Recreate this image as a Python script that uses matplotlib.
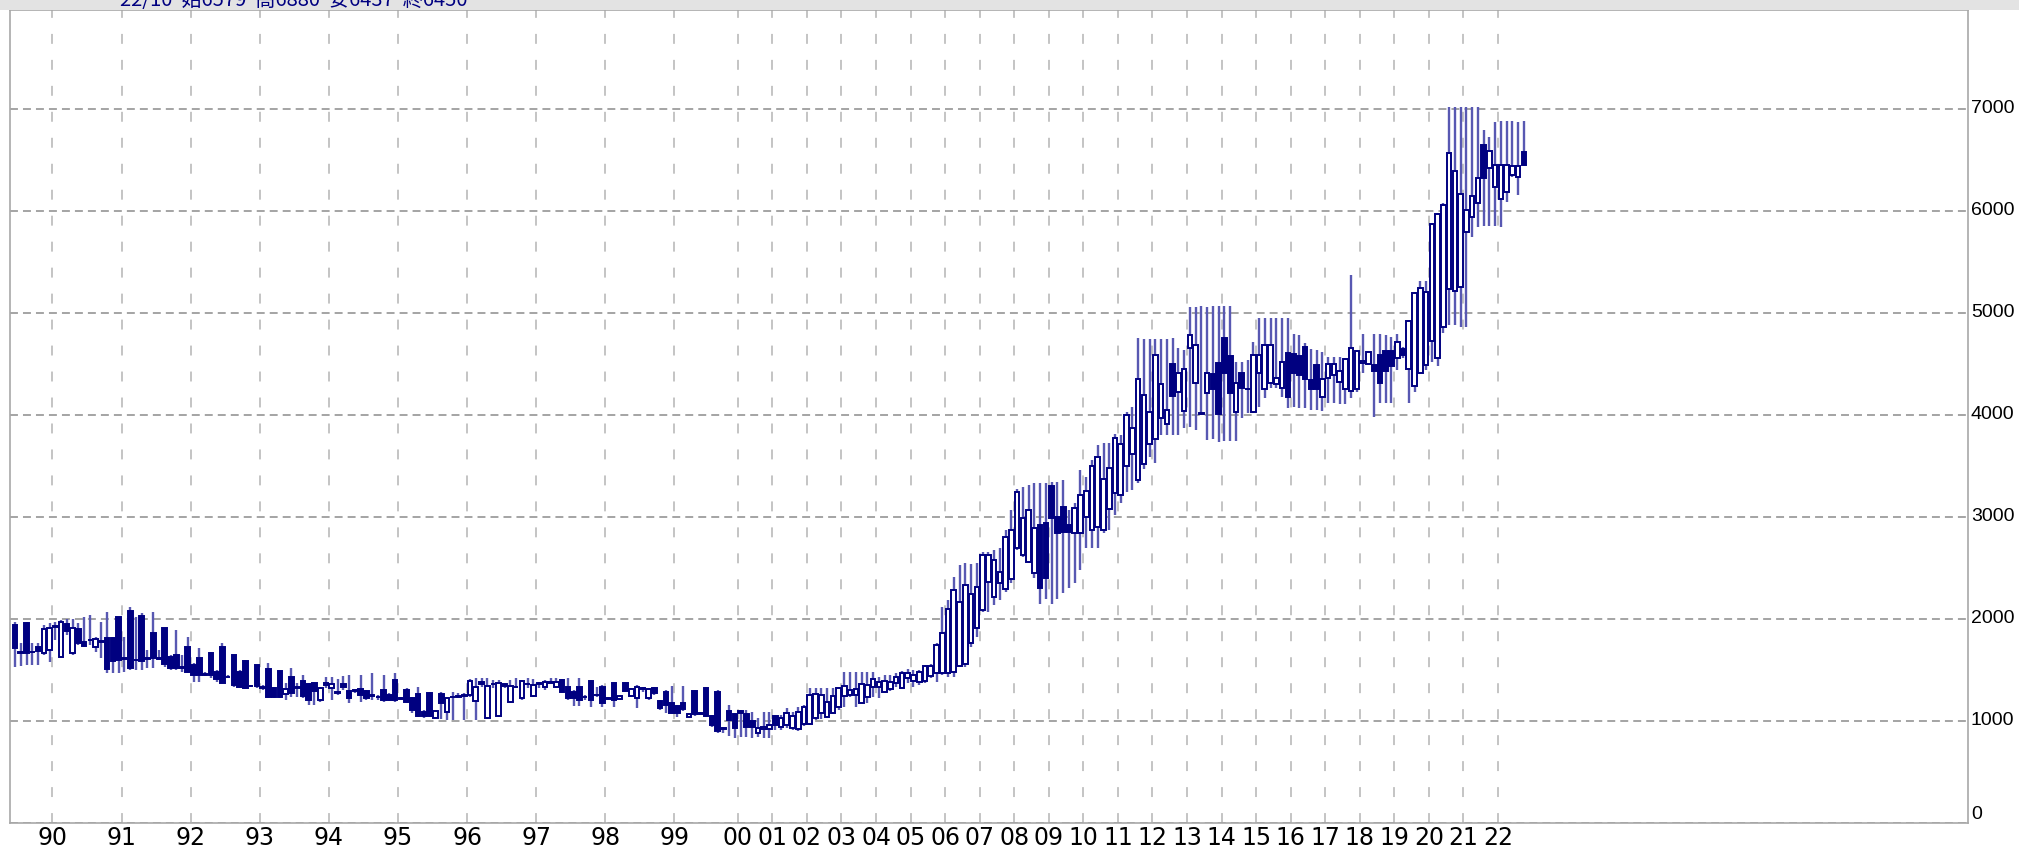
import numpy as np
import matplotlib.pyplot as plt
from matplotlib.patches import Rectangle

# monthly candles 1989-06 .. 1999-10, then two-month candles up to 22/10
year_labels = ['90', '91', '92', '93', '94', '95', '96', '97', '98', '99',
               '00', '01', '02', '03', '04', '05', '06', '07', '08', '09',
               '10', '11', '12', '13', '14', '15', '16', '17', '18', '19',
               '20', '21', '22']
candles_per_year = [7] + [12] * 9 + [11] + [6] * 22 + [5]

opens = [
    1944, 1668, 1957, 1676, 1728, 1670, 1696, 1920, 1630, 1951,
    1663, 1898, 1778, 1792, 1722, 1776, 1817, 1817, 2023, 1612,
    2081, 1600, 2029, 1616, 1859, 1614, 1908, 1630, 1647, 1528,
    1728, 1549, 1614, 1451, 1663, 1483, 1728, 1436, 1647, 1483,
    1591, 1345, 1549, 1332, 1506, 1320, 1493, 1261, 1434, 1328,
    1395, 1363, 1369, 1206, 1353, 1320, 1287, 1359, 1294, 1297,
    1310, 1294, 1246, 1240, 1304, 1255, 1402, 1224, 1304, 1222,
    1265, 1091, 1271, 1026, 1261, 1085, 1236, 1238, 1245, 1255,
    1199, 1385, 1026, 1361, 1049, 1363, 1189, 1334, 1222, 1361,
    1245, 1367, 1330, 1376, 1330, 1402, 1336, 1287, 1336, 1240,
    1395, 1253, 1336, 1224, 1369, 1212, 1376, 1245, 1222, 1310,
    1222, 1320, 1199, 1287, 1173, 1147, 1180, 1036, 1297, 1077,
    1327, 1049, 1287, 930, 1098, 1068, 1101, 1065, 1003, 885,
    918, 918, 1049, 945, 961, 928, 918, 971, 971, 1026,
    1082, 1043, 1082, 1141, 1245, 1255, 1255, 1180, 1239, 1337,
    1330, 1288, 1311, 1369, 1320, 1418, 1396, 1386, 1396, 1441,
    1467, 1474, 1467, 1477, 1543, 1559, 1762, 1909, 2088, 2366,
    2219, 2350, 2291, 2389, 2693, 2628, 2562, 2448, 2922, 2938,
    3304, 3003, 3101, 2922, 2840, 2840, 2997, 2873, 2905, 2873,
    3075, 3232, 3216, 3500, 3618, 3363, 3520, 3713, 3762, 3967,
    3912, 4500, 4222, 4039, 4654, 4311, 4020, 4219, 4402, 4513,
    4758, 4579, 4033, 4415, 4255, 4033, 4409, 4252, 4317, 4301,
    4262, 4605, 4594, 4578, 4670, 4343, 4490, 4173, 4366, 4392,
    4327, 4255, 4238, 4251, 4506, 4500, 4490, 4588, 4630, 4630,
    4555, 4643, 4447, 4284, 4415, 4490, 4725, 4562, 4866, 5232,
    5215, 5258, 5797, 5944, 6075, 6647, 6418, 6238, 6117, 6189,
    6353, 6336, 6579,
]
highs = [
    1974, 1761, 1967, 1761, 1768, 1941, 1957, 1974, 1990, 1996,
    1996, 1957, 2023, 2039, 1826, 1974, 2072, 1826, 2023, 1826,
    2121, 2023, 2055, 1696, 2072, 1696, 1908, 1647, 1892, 1647,
    1826, 1565, 1712, 1483, 1679, 1500, 1761, 1451, 1647, 1500,
    1598, 1353, 1549, 1353, 1565, 1336, 1493, 1369, 1516, 1369,
    1451, 1369, 1385, 1336, 1434, 1434, 1408, 1441, 1451, 1304,
    1451, 1304, 1467, 1255, 1451, 1271, 1467, 1238, 1320, 1238,
    1336, 1108, 1287, 1108, 1287, 1238, 1287, 1271, 1271, 1408,
    1418, 1418, 1418, 1402, 1402, 1369, 1402, 1418, 1402, 1418,
    1408, 1385, 1402, 1418, 1418, 1408, 1418, 1304, 1418, 1255,
    1402, 1336, 1353, 1238, 1385, 1255, 1385, 1320, 1353, 1336,
    1320, 1330, 1206, 1304, 1343, 1157, 1343, 1075, 1304, 1091,
    1336, 1059, 1304, 944, 1157, 1075, 1108, 1108, 1091, 1026,
    1091, 1091, 1059, 1059, 1124, 1092, 1141, 1157, 1320, 1320,
    1320, 1320, 1320, 1337, 1484, 1484, 1484, 1484, 1484, 1484,
    1435, 1451, 1451, 1467, 1494, 1507, 1500, 1500, 1549, 1559,
    1762, 2121, 2186, 2415, 2530, 2546, 2539, 2546, 2660, 2660,
    2677, 2693, 2873, 3069, 3271, 3297, 3314, 3337, 3337, 3337,
    3347, 3347, 3363, 3069, 3134, 3461, 3396, 3559, 3706, 3722,
    3722, 3811, 3804, 4033, 4082, 4752, 4742, 4742, 4742, 4742,
    4742, 4752, 4654, 4637, 5062, 5062, 5069, 5062, 5069, 5069,
    5069, 5069, 4523, 4523, 4539, 4719, 4948, 4948, 4948, 4948,
    4948, 4948, 4794, 4784, 4702, 4643, 4637, 4621, 4572, 4572,
    4572, 4555, 5372, 4637, 4794, 4630, 4794, 4794, 4784, 4768,
    4794, 4670, 4931, 5209, 5313, 5313, 5879, 5983, 6075, 7016,
    7016, 7016, 7023, 7023, 7023, 6794, 6728, 6876, 6885, 6885,
    6885, 6876, 6880,
]
lows = [
    1532, 1539, 1549, 1549, 1549, 1647, 1581, 1794, 1625, 1843,
    1647, 1745, 1728, 1745, 1679, 1614, 1474, 1474, 1474, 1483,
    1500, 1500, 1500, 1516, 1516, 1598, 1532, 1500, 1500, 1483,
    1467, 1385, 1385, 1441, 1418, 1385, 1369, 1418, 1336, 1320,
    1310, 1330, 1320, 1304, 1222, 1222, 1222, 1206, 1238, 1238,
    1222, 1157, 1157, 1189, 1320, 1206, 1255, 1304, 1173, 1271,
    1189, 1206, 1206, 1206, 1189, 1199, 1189, 1206, 1173, 1082,
    1036, 1026, 1036, 1016, 1016, 1009, 1009, 1222, 1009, 1238,
    1009, 1336, 1016, 1320, 1043, 1320, 1173, 1320, 1206, 1320,
    1238, 1320, 1304, 1369, 1320, 1271, 1206, 1147, 1147, 1206,
    1134, 1238, 1140, 1206, 1134, 1206, 1287, 1238, 1124, 1287,
    1206, 1255, 1108, 1075, 1068, 1036, 1101, 1026, 1049, 1059,
    1036, 944, 879, 879, 853, 830, 846, 846, 830, 840,
    830, 830, 912, 912, 928, 912, 905, 951, 961, 1010,
    1016, 1026, 1069, 1108, 1141, 1239, 1141, 1173, 1173, 1239,
    1222, 1271, 1297, 1337, 1320, 1369, 1337, 1353, 1369, 1418,
    1386, 1451, 1435, 1435, 1533, 1533, 1729, 1827, 2072, 2072,
    2137, 2186, 2268, 2350, 2677, 2611, 2546, 2400, 2150, 2200,
    2150, 2200, 2250, 2300, 2350, 2481, 2693, 2693, 2693, 2840,
    2873, 3020, 3134, 3248, 3265, 3330, 3467, 3592, 3526, 3804,
    3804, 3804, 3804, 3869, 3886, 3853, 4000, 3755, 3762, 3739,
    3749, 3749, 3749, 3967, 4016, 4016, 4082, 4164, 4262, 4262,
    4180, 4066, 4081, 4065, 4065, 4049, 4049, 4042, 4114, 4114,
    4108, 4108, 4163, 4228, 4408, 4490, 3977, 4114, 4114, 4114,
    4441, 4555, 4114, 4228, 4415, 4441, 4523, 4480, 4800, 4882,
    4882, 4866, 4866, 5748, 5846, 5856, 5853, 5853, 5846, 6091,
    6336, 6157, 6437,
]
closes = [
    1712, 1672, 1663, 1680, 1689, 1898, 1908, 1930, 1967, 1885,
    1915, 1768, 1735, 1796, 1800, 1780, 1506, 1591, 1598, 1616,
    1523, 1596, 1588, 1612, 1614, 1610, 1559, 1516, 1516, 1524,
    1483, 1451, 1451, 1460, 1451, 1408, 1376, 1432, 1353, 1336,
    1320, 1341, 1343, 1328, 1238, 1238, 1238, 1310, 1278, 1332,
    1248, 1206, 1294, 1320, 1376, 1363, 1271, 1330, 1222, 1300,
    1255, 1222, 1250, 1236, 1206, 1206, 1206, 1220, 1189, 1108,
    1049, 1049, 1049, 1098, 1180, 1222, 1240, 1242, 1255, 1395,
    1336, 1363, 1343, 1365, 1376, 1343, 1343, 1338, 1395, 1365,
    1353, 1371, 1385, 1385, 1385, 1287, 1222, 1222, 1206, 1236,
    1206, 1257, 1173, 1220, 1206, 1245, 1297, 1310, 1330, 1320,
    1310, 1278, 1124, 1157, 1082, 1075, 1114, 1065, 1068, 1073,
    1049, 961, 902, 926, 1010, 928, 1075, 944, 944, 934,
    944, 964, 961, 1026, 1082, 1049, 1092, 1141, 1255, 1265,
    1255, 1190, 1245, 1320, 1343, 1304, 1311, 1363, 1353, 1409,
    1386, 1396, 1379, 1435, 1467, 1474, 1451, 1484, 1543, 1543,
    1745, 1860, 2095, 2284, 2163, 2333, 2245, 2317, 2628, 2628,
    2579, 2464, 2807, 2873, 3248, 2987, 3069, 2889, 2300, 2400,
    2987, 2840, 2856, 2856, 3085, 3216, 3255, 3503, 3585, 3373,
    3484, 3778, 3713, 4000, 3876, 4353, 4196, 4033, 4588, 4301,
    4049, 4190, 4409, 4451, 4784, 4686, 4012, 4415, 4252, 4007,
    4409, 4219, 4317, 4262, 4250, 4588, 4588, 4686, 4686, 4366,
    4523, 4180, 4408, 4392, 4349, 4251, 4251, 4349, 4496, 4503,
    4434, 4545, 4653, 4630, 4532, 4621, 4434, 4317, 4434, 4483,
    4719, 4585, 4921, 5192, 5241, 5209, 5869, 5967, 6059, 6572,
    6395, 6163, 6009, 6147, 6320, 6320, 6588, 6451, 6451, 6451,
    6441, 6441, 6450,
]

header = '22/10  始6579  高6880  安6437  終6450'

NAVY = '#000080'
WICK = '#5858b2'

W, H = 2019, 847
fig = plt.figure(figsize=(W / 100, H / 100), dpi=100)
fig.patch.set_facecolor('white')

# grey strip across the top with the last candle's prices
fig.patches.append(Rectangle((0, (H - 10) / H), 1, 10 / H, transform=fig.transFigure,
                             facecolor='#e3e3e3', edgecolor='none', zorder=0))
fig.text(120 / W, (H - 6) / H, header, color=NAVY, fontsize=14.5,
         family=['Noto Sans CJK JP', 'DejaVu Sans'], va='baseline', ha='left')

ax = fig.add_axes([10 / W, 24 / H, 1958 / W, 813 / H])

o = np.array(opens, dtype=float)
h = np.array(highs, dtype=float)
l = np.array(lows, dtype=float)
c = np.array(closes, dtype=float)
x = np.arange(len(o))

ax.vlines(x, l, h, color=WICK, lw=1.7, zorder=2)
up = c >= o
bottom = np.minimum(o, c)
height = np.maximum(np.abs(c - o), 1)
ax.bar(x[up], height[up], bottom=bottom[up], width=0.8, facecolor='white',
       edgecolor=NAVY, linewidth=1.4, zorder=3)
ax.bar(x[~up], height[~up], bottom=bottom[~up], width=0.8, facecolor=NAVY,
       edgecolor=NAVY, linewidth=1.4, zorder=3)

# year boundaries sit between candles
year_pos = np.cumsum(candles_per_year)[:-1] - 0.5
ax.set_xticks(year_pos)
ax.set_xticklabels(year_labels, family=['Liberation Sans Narrow', 'DejaVu Sans'],
                   fontsize=17)
ax.set_xlim(-0.87, 339.1)

ax.set_ylim(0, 7970)
ax.set_yticks(range(0, 8000, 1000))
ax.yaxis.tick_right()
ax.set_yticklabels([str(v) for v in range(0, 8000, 1000)],
                   family=['Liberation Sans', 'DejaVu Sans'], fontsize=14)
for lab in ax.get_yticklabels()[1:]:
    lab.set_verticalalignment('center')
ax.get_yticklabels()[0].set_verticalalignment('bottom')

ax.tick_params(axis='both', length=0, colors='black')
ax.tick_params(axis='y', pad=2)
ax.tick_params(axis='x', pad=2)

ax.grid(axis='y', color='#8c8c8c', lw=1.1, ls=(0, (5.2, 3.3)), zorder=1)
ax.grid(axis='x', color='#b4b4b4', lw=1.1, ls=(0, (6.5, 10.5)), zorder=1)
ax.set_axisbelow(True)

for side in ['left', 'right', 'bottom', 'top']:
    ax.spines[side].set_color('#a8a8a8')
    ax.spines[side].set_linewidth(1.2)

fig.savefig('out.png', dpi=100, facecolor='white')
